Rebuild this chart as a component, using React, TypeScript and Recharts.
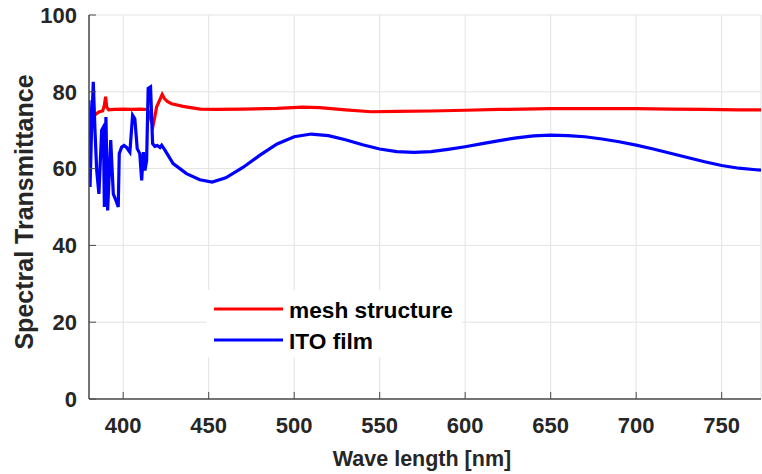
import React from 'react';
import { LineChart, Line, XAxis, YAxis, CartesianGrid, Legend } from 'recharts';

const meshWl = [380, 381, 382.5, 384, 386, 388, 389, 389.7, 390.4, 391.5, 395, 400, 405, 410, 413.7, 415, 416.3, 417.5, 418.5, 419.5, 421, 422.8, 424, 426, 428.3, 435, 445, 455, 470, 490, 505, 515, 530, 545, 560, 580, 600, 620, 650, 680, 700, 720, 740, 760, 773];
const meshT = [70.8, 72.5, 73.5, 74.2, 74.8, 75, 76.5, 78.7, 76, 75.3, 75.4, 75.5, 75.4, 75.5, 75.4, 74.8, 72.5, 71.3, 73.5, 76, 77.5, 79.3, 78.3, 77.4, 76.9, 76.2, 75.5, 75.4, 75.5, 75.7, 76, 75.9, 75.3, 74.8, 74.9, 75, 75.2, 75.4, 75.6, 75.6, 75.6, 75.5, 75.4, 75.3, 75.3];

const itoWl = [380, 380.6, 381.5, 382.5, 383.5, 384.5, 385.8, 387.4, 388.4, 389, 389.9, 390.9, 392.7, 394.2, 395.5, 397.1, 397.7, 399.1, 400.5, 402, 403.9, 405.5, 406.8, 408.2, 409.7, 410.8, 411.8, 412.7, 413.7, 414.6, 416, 417.2, 418.5, 420, 421.5, 422.5, 424.4, 429.2, 437, 444.8, 452, 460, 470, 480, 490, 500, 510, 520, 530, 540, 550, 560, 570, 580, 590, 600, 610, 620, 630, 640, 650, 660, 670, 680, 690, 700, 710, 720, 730, 740, 750, 760, 770, 773];
const itoT = [77.8, 55.2, 70, 82.6, 70, 59.5, 53.4, 70, 70.8, 50, 73.4, 49.1, 67.4, 53.4, 52, 50, 63.9, 65.6, 66, 65.5, 64.3, 73.9, 73, 65.2, 63.9, 56.9, 64.3, 59.5, 62.1, 80.9, 81.3, 66.5, 65.8, 66, 65.5, 66.1, 64.8, 61.3, 58.7, 57.1, 56.5, 57.6, 60.3, 63.5, 66.4, 68.3, 69, 68.6, 67.5, 66.2, 65.1, 64.4, 64.2, 64.4, 65, 65.7, 66.5, 67.3, 68, 68.5, 68.7, 68.6, 68.3, 67.7, 67, 66.1, 65.1, 64, 62.9, 61.8, 60.8, 60.1, 59.7, 59.6];

const xTicks = [400, 450, 500, 550, 600, 650, 700, 750];
const yTicks = [0, 20, 40, 60, 80, 100];

const seriesNames = ['mesh structure', 'ITO film'];
const seriesColors = ['#ff0000', '#0000ff'];

const meshData = meshWl.map((x, i) => ({ x, y: meshT[i] }));
const itoData = itoWl.map((x, i) => ({ x, y: itoT[i] }));

const FONT = '"Liberation Sans", Arial, Helvetica, sans-serif';
const TXT = '#262626';

const LegendBox = (props: any) => {
  const payload = [...(props.payload || [])].sort(
    (a: any, b: any) => seriesNames.indexOf(a.value) - seriesNames.indexOf(b.value)
  );
  return (
    <svg width={255} height={67} style={{ display: 'block' }}>
      <rect x={0} y={0} width={255} height={67} fill="#ffffff" />
      {payload.map((p: any, i: number) => (
        <g key={i}>
          <line x1={7} x2={76} y1={19 + i * 31} y2={19 + i * 31} stroke={p.color} strokeWidth={3.2} />
          <text x={82} y={28 + i * 31} fontFamily={FONT} fontWeight="bold" fontSize={22.7} fill="#000">
            {p.value}
          </text>
        </g>
      ))}
    </svg>
  );
};

export default function App() {
  return (
    <div style={{ position: 'absolute', left: 0, top: 0, width: 762, height: 474, background: '#fff' }}>
      <LineChart width={762} height={474} margin={{ top: 15, right: 1, bottom: 0, left: 0 }}>
        <CartesianGrid stroke="#e3e3e3" strokeWidth={1} vertical horizontal />
        <XAxis
          dataKey="x"
          type="number"
          domain={[380, 773]}
          ticks={xTicks}
          allowDataOverflow
          height={75}
          tickSize={-7}
          tickMargin={25}
          axisLine={{ stroke: '#4a4a4a', strokeWidth: 1.5 }}
          tickLine={{ stroke: '#4a4a4a', strokeWidth: 1 }}
          tick={{ fill: TXT, fontFamily: FONT, fontWeight: 'bold', fontSize: 22 }}
          label={{
            content: () => (
              <text x={422} y={466} textAnchor="middle" fontFamily={FONT} fontWeight="bold" fontSize={21.5} fill={TXT}>
                Wave length [nm]
              </text>
            ),
          }}
        />
        <YAxis
          type="number"
          domain={[0, 100]}
          ticks={yTicks}
          width={89}
          tickSize={-7}
          tickMargin={19}
          axisLine={{ stroke: '#4a4a4a', strokeWidth: 1.5 }}
          tickLine={{ stroke: '#4a4a4a', strokeWidth: 1 }}
          tick={{ fill: TXT, fontFamily: FONT, fontWeight: 'bold', fontSize: 22 }}
          label={{
            content: () => (
              <text x={33} y={212} transform="rotate(-90 33 212)" textAnchor="middle" fontFamily={FONT} fontWeight="bold" fontSize={25} fill={TXT}>
                Spectral Transmittance
              </text>
            ),
          }}
        />
        <Legend
          layout="horizontal"
          verticalAlign="middle"
          align="center"
          content={<LegendBox />}
          wrapperStyle={{ position: 'absolute', left: 207, top: 290, width: 255, height: 67 }}
        />
        <Line
          data={meshData}
          dataKey="y"
          name={seriesNames[0]}
          stroke={seriesColors[0]}
          strokeWidth={3.2}
          dot={false}
          activeDot={false}
          isAnimationActive={false}
          type="linear"
        />
        <Line
          data={itoData}
          dataKey="y"
          name={seriesNames[1]}
          stroke={seriesColors[1]}
          strokeWidth={3.2}
          dot={false}
          activeDot={false}
          isAnimationActive={false}
          type="linear"
        />
      </LineChart>
    </div>
  );
}
